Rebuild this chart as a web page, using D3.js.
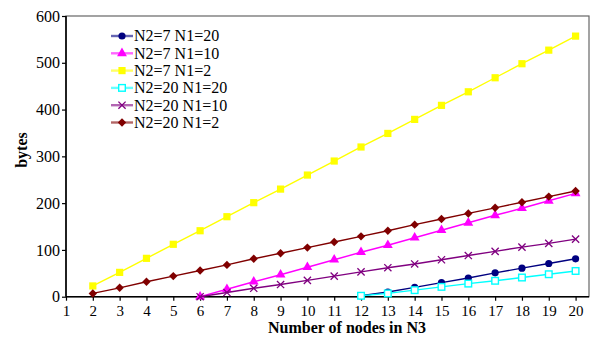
<!DOCTYPE html>
<html>
<head>
<meta charset="utf-8">
<script src="https://cdn.jsdelivr.net/npm/d3@7/dist/d3.min.js"></script>
<style>
  html, body { margin: 0; padding: 0; background: #fff; }
  svg { display: block; font-family: "Liberation Serif", "Times New Roman", serif; }
</style>
</head>
<body>
<svg id="chart" width="598" height="343"></svg>
<script>
// Number of nodes in N3 (x axis categories)
const xTicks = d3.range(1, 21);
const yTicks = [0, 100, 200, 300, 400, 500, 600];

// Byte counts per configuration
const xFrom2 = d3.range(2, 21);
const xFrom6 = d3.range(6, 21);
const xFrom12 = d3.range(12, 21);

const n2_7_n1_20 = [2, 10, 20, 30, 40, 51, 61, 71, 81];
const n2_7_n1_10 = [0, 16, 32, 47, 63, 79, 95, 110, 126, 142, 158, 174, 189, 205, 221];
const n2_7_n1_2 = [23, 52, 82, 112, 141, 171, 201, 230, 260, 290, 320, 349, 379, 409, 438, 468, 498, 527, 557];
const n2_20_n1_20 = [2, 7, 14, 21, 28, 34, 41, 48, 55];
const n2_20_n1_10 = [0, 9, 18, 26, 35, 44, 53, 62, 70, 79, 88, 97, 106, 114, 123];
const n2_20_n1_2 = [7, 19, 32, 44, 56, 68, 81, 93, 105, 117, 129, 141, 154, 166, 178, 190, 202, 214, 226];

const series = [
  { name: "N2=7 N1=20", xs: xFrom12, ys: n2_7_n1_20, color: "#000080", marker: "circle" },
  { name: "N2=7 N1=10", xs: xFrom6, ys: n2_7_n1_10, color: "#ff00ff", marker: "triangle" },
  { name: "N2=7 N1=2", xs: xFrom2, ys: n2_7_n1_2, color: "#ffff00", marker: "square" },
  { name: "N2=20 N1=20", xs: xFrom12, ys: n2_20_n1_20, color: "#00ffff", marker: "hollowSquare" },
  { name: "N2=20 N1=10", xs: xFrom6, ys: n2_20_n1_10, color: "#800080", marker: "cross" },
  { name: "N2=20 N1=2", xs: xFrom2, ys: n2_20_n1_2, color: "#800000", marker: "diamond" }
];

const svg = d3.select("#chart");
const plot = { left: 66, right: 589, top: 16, bottom: 296.7 };

const x = d3.scaleLinear().domain([1, 20.5]).range([plot.left, plot.right]);
const y = d3.scaleLinear().domain([0, 600]).range([plot.bottom, plot.top]);

svg.append("rect").attr("width", 598).attr("height", 343).attr("fill", "#fff");

// plot frame
svg.append("rect")
  .attr("x", plot.left).attr("y", plot.top)
  .attr("width", plot.right - plot.left).attr("height", plot.bottom - plot.top)
  .attr("fill", "none").attr("stroke", "#666").attr("stroke-width", 1.2);

// axes
const xAxis = d3.axisBottom(x).tickValues(xTicks).tickSize(4).tickPadding(5).tickFormat(d3.format("d"));
const yAxis = d3.axisLeft(y).tickValues(yTicks).tickSize(4).tickPadding(2);

const gx = svg.append("g").attr("transform", `translate(0,${plot.bottom})`).call(xAxis);
const gy = svg.append("g").attr("transform", `translate(${plot.left},0)`).call(yAxis);

[gx, gy].forEach(g => {
  g.select(".domain").remove();
  g.selectAll(".tick line").attr("stroke", "#000").attr("stroke-width", 1.2);
  g.selectAll(".tick text").attr("fill", "#000")
    .style("font-family", "'Liberation Serif', serif");
});
gx.selectAll(".tick text").style("font-size", "15px");
gy.selectAll(".tick text").style("font-size", "16px");

svg.append("line").attr("x1", plot.left).attr("x2", plot.right)
  .attr("y1", plot.bottom).attr("y2", plot.bottom)
  .attr("stroke", "#000").attr("stroke-width", 1.6);
svg.append("line").attr("x1", plot.left).attr("x2", plot.left)
  .attr("y1", plot.top).attr("y2", plot.bottom)
  .attr("stroke", "#000").attr("stroke-width", 1.6);

// axis titles
svg.append("text")
  .attr("x", 347).attr("y", 333)
  .attr("text-anchor", "middle")
  .style("font-size", "16px").style("font-weight", "bold")
  .text("Number of nodes in N3");

svg.append("text")
  .attr("transform", "translate(27,150) rotate(-90)")
  .attr("text-anchor", "middle")
  .style("font-size", "16px").style("font-weight", "bold")
  .text("bytes");

// marker drawing
function drawMarker(g, type, color, cx, cy) {
  if (type === "circle") {
    g.append("circle").attr("cx", cx).attr("cy", cy).attr("r", 3.6).attr("fill", color);
  } else if (type === "triangle") {
    g.append("path").attr("transform", `translate(${cx},${cy})`)
      .attr("d", d3.symbol().type(d3.symbolTriangle).size(42)()).attr("fill", color);
  } else if (type === "square") {
    g.append("rect").attr("x", cx - 3.6).attr("y", cy - 3.6).attr("width", 7.2).attr("height", 7.2).attr("fill", color);
  } else if (type === "hollowSquare") {
    g.append("rect").attr("x", cx - 3.3).attr("y", cy - 3.3).attr("width", 6.6).attr("height", 6.6)
      .attr("fill", "#fff").attr("stroke", color).attr("stroke-width", 1.4);
  } else if (type === "cross") {
    const s = 3.6;
    g.append("path").attr("d", `M${cx - s},${cy - s}L${cx + s},${cy + s}M${cx - s},${cy + s}L${cx + s},${cy - s}`)
      .attr("stroke", color).attr("stroke-width", 1.3).attr("fill", "none");
  } else if (type === "diamond") {
    const s = 4.2;
    g.append("path").attr("d", `M${cx},${cy - s}L${cx + s},${cy}L${cx},${cy + s}L${cx - s},${cy}Z`).attr("fill", color);
  }
}

const line = d3.line().x(d => x(d[0])).y(d => y(d[1]));

series.forEach(s => {
  const pts = s.xs.map((xv, i) => [xv, s.ys[i]]);
  const g = svg.append("g");
  g.append("path").attr("d", line(pts)).attr("fill", "none")
    .attr("stroke", s.color).attr("stroke-width", 1.4);
  pts.forEach(p => drawMarker(g, s.marker, s.color, x(p[0]), y(p[1])));
});

// legend
const legend = svg.append("g");
series.forEach((s, i) => {
  const ly = 36 + i * 17.3;
  legend.append("line").attr("x1", 111).attr("x2", 133).attr("y1", ly).attr("y2", ly)
    .attr("stroke", s.color).attr("stroke-width", 2.4).attr("stroke-opacity", 0.6);
  drawMarker(legend, s.marker, s.color, 122, ly);
  legend.append("text").attr("x", 134).attr("y", ly + 5.3)
    .style("font-size", "16px").text(s.name);
});
</script>
</body>
</html>
